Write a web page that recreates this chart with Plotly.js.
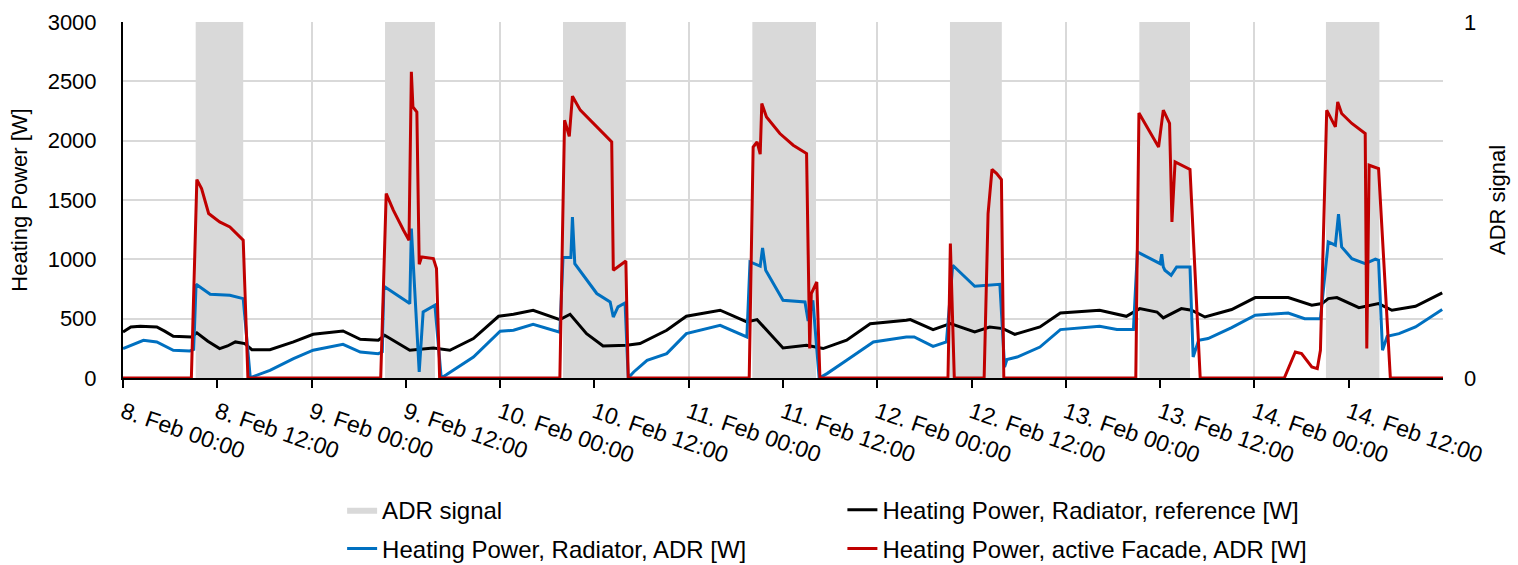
<!DOCTYPE html>
<html>
<head>
<meta charset="utf-8">
<script src="https://cdn.plot.ly/plotly-3.0.1.min.js"></script>
<style>html,body{margin:0;padding:0;background:#fff;}#chart{width:1518px;height:565px;}</style>
</head>
<body>
<div id="chart"></div>
<script>
// Hours after 8. Feb 00:00
var adrStart = [9.25, 33.35, 56.0, 80.1, 105.25, 129.35, 153.1];
var adrEnd   = [15.3, 39.7, 64.0, 88.2, 111.85, 135.8, 159.9];

var refHours = [0, 1.0, 2.2, 4.3, 5.3, 6.4, 8.7, 9.4, 10.8, 12.3, 13.3, 14.3, 15.5, 16.4, 18.7, 21.7, 24.2, 28.0, 30.2, 32.5, 33.3,
  36.5, 39.5, 41.6, 44.6, 47.8, 49.7, 52.2, 55.6, 56.9, 59.0, 61.1, 64.1, 65.8, 69.2, 71.7, 76.0, 79.4, 80.7, 84.0, 87.0, 89.1,
  92.1, 95.1, 99.7, 100.2, 103.1, 105.3, 108.4, 110.3, 112.0, 113.5, 116.7, 119.3, 124.3, 127.7, 129.4, 131.6, 132.4, 134.7,
  136.0, 137.7, 141.1, 144.1, 148.3, 151.3, 152.6, 153.4, 154.5, 157.3, 159.8, 161.5, 164.5, 167.9];
var refPower = [388, 430, 436, 430, 395, 352, 346, 380, 310, 248, 270, 304, 290, 239, 239, 304, 368, 396, 326, 318, 360,
  234, 253, 234, 332, 520, 537, 571, 492, 537, 374, 270, 276, 290, 402, 520, 571, 472, 492, 253, 276, 248,
  318, 458, 486, 492, 408, 458, 388, 430, 416, 368, 430, 548, 571, 520, 585, 556, 506, 585,
  571, 514, 577, 678, 678, 613, 627, 669, 678, 593, 627, 571, 604, 717];

var radHours = [0, 2.6, 4.3, 6.4, 8.5, 9.0, 9.3, 11.1, 13.6, 15.3, 16.2, 16.4, 18.7, 21.7, 24.2, 28.0, 30.2, 32.5, 33.0, 33.2,
  36.5, 36.7, 37.7, 38.2, 39.7, 40.5, 41.2, 44.6, 48.0, 49.7, 52.2, 55.6, 56.0, 57.0, 57.2, 57.5, 60.3, 62.0, 62.4, 63.0, 63.9,
  64.3, 65.0, 66.7, 69.2, 71.7, 76.0, 79.4, 79.8, 81.1, 81.4, 81.8, 84.0, 86.8, 87.2, 87.8, 88.6, 89.6, 92.1, 95.5, 99.7,
  100.7, 103.1, 104.8, 105.6, 108.4, 111.6, 112.2, 112.5, 113.8, 116.7, 119.3, 124.3, 126.5, 128.6, 129.1, 132.0, 132.2,
  132.4, 132.6, 133.4, 134.1, 135.8, 136.2, 136.9, 138.1, 141.1, 144.1, 148.3, 150.4, 152.4, 153.4, 154.3, 154.7, 155.1,
  156.4, 158.1, 159.4, 159.8, 160.3, 160.9, 162.4, 164.5, 167.9];
var radPower = [248, 318, 304, 234, 228, 240, 790, 706, 697, 669, 0, 8, 65, 163, 234, 284, 219, 205, 220, 773,
  627, 1259, 51, 556, 613, 0, 29, 177, 394, 402, 453, 385, 1015, 1015, 1357, 964, 712, 641, 514, 599, 632,
  0, 51, 149, 205, 374, 444, 346, 978, 942, 1096, 908, 655, 641, 480, 655, 0, 37, 149, 304, 346,
  346, 267, 304, 950, 773, 790, 93, 155, 177, 261, 408, 436, 408, 408, 1062, 964, 1043,
  936, 908, 866, 936, 936, 177, 318, 332, 425, 529, 548, 500, 500, 1147, 1119, 1380, 1105,
  1006, 964, 1001, 992, 234, 352, 374, 430, 577];

var facHours = [0, 8.7, 9.4, 10.0, 10.9, 12.3, 13.6, 15.3, 15.9, 32.8, 33.5, 34.4, 35.7, 36.4, 36.7, 36.9, 37.4, 37.7, 38.0,
  39.5, 39.9, 40.3, 55.6, 56.2, 56.8, 57.2, 58.2, 60.3, 62.2, 62.4, 64.0, 64.3, 79.7, 80.2, 80.7, 81.1, 81.3, 81.9, 83.6,
  85.3, 87.0, 87.4, 87.6, 88.3, 88.7, 105.0, 105.3, 105.8, 109.6, 110.1, 110.6, 111.2, 111.8, 112.1, 128.9, 129.3, 130.3,
  131.8, 132.4, 133.2, 133.5, 133.9, 135.8, 137.1, 147.8, 149.2, 150.0, 151.3, 152.0, 152.4, 153.2, 154.3, 154.6, 155.1,
  156.4, 158.1, 158.3, 158.6, 159.8, 161.3, 168];
var facPower = [0, 0, 1672, 1597, 1386, 1315, 1273, 1161, 0, 0, 1554, 1414, 1245, 1161, 2580, 2284, 2242, 958, 1020,
  1006, 922, 0, 0, 2172, 2037, 2375, 2257, 2116, 1989, 908, 986, 0, 0, 1947, 1989, 1886, 2313, 2200, 2060,
  1962, 1892, 248, 711, 809, 0, 0, 1133, 0, 0, 1386, 1757, 1723, 1672, 0, 0, 2234, 2116,
  1947, 2257, 2145, 1315, 1821, 1757, 0, 0, 219, 205, 93, 79, 234, 2257, 2116, 2327, 2229,
  2145, 2060, 248, 1793, 1765, 0, 0];

var tickHours = [0, 12, 24, 36, 48, 60, 72, 84, 96, 108, 120, 132, 144, 156];
var tickLabels = ['8. Feb 00:00', '8. Feb 12:00', '9. Feb 00:00', '9. Feb 12:00', '10. Feb 00:00', '10. Feb 12:00',
  '11. Feb 00:00', '11. Feb 12:00', '12. Feb 00:00', '12. Feb 12:00', '13. Feb 00:00', '13. Feb 12:00',
  '14. Feb 00:00', '14. Feb 12:00'];
var gridHours = [24, 48, 72, 96, 120, 144];
var rangeHours = [0, 168];

function toDate(h) {
  var ms = Date.UTC(2021, 1, 8) + h * 3600000;
  return new Date(ms).toISOString().replace('T', ' ').slice(0, 19);
}

// ADR signal as a 0/1 step series built from the start/end hours
var adrX = [toDate(rangeHours[0])], adrY = [0];
adrStart.forEach(function (s, i) {
  adrX.push(toDate(s)); adrY.push(1);
  adrX.push(toDate(adrEnd[i])); adrY.push(0);
});
adrX.push(toDate(rangeHours[1])); adrY.push(0);

var traces = [
  {type: 'scatter', mode: 'lines', name: 'ADR signal', x: adrX, y: adrY, xaxis: 'x2', yaxis: 'y2',
   line: {shape: 'hv', width: 0, color: 'rgba(0,0,0,0)'}, fill: 'tozeroy', fillcolor: '#d9d9d9',
   legend: 'legend', hoverinfo: 'skip'},
  {type: 'scatter', mode: 'lines', name: 'Heating Power, Radiator, reference [W]', x: refHours.map(toDate), y: refPower,
   line: {color: '#000000', width: 3}, legend: 'legend2', cliponaxis: false},
  {type: 'scatter', mode: 'lines', name: 'Heating Power, Radiator, ADR [W]', x: radHours.map(toDate), y: radPower,
   line: {color: '#0070c0', width: 3}, legend: 'legend3', cliponaxis: false},
  {type: 'scatter', mode: 'lines', name: 'Heating Power, active Facade, ADR [W]', x: facHours.map(toDate), y: facPower,
   line: {color: '#c00000', width: 3}, legend: 'legend4', cliponaxis: false}
];

var legFont = {size: 24, color: '#000', family: 'Liberation Sans, Arial, sans-serif'};
function leg(x, y) {
  return {x: x, y: y, xanchor: 'left', yanchor: 'middle', font: legFont, bgcolor: 'rgba(0,0,0,0)',
          borderwidth: 0, itemclick: false, itemdoubleclick: false};
}

var layout = {
  width: 1518, height: 565,
  margin: {l: 123, r: 75, t: 22, b: 187, autoexpand: false},
  paper_bgcolor: '#ffffff', plot_bgcolor: '#ffffff',
  font: {family: 'Liberation Sans, Arial, sans-serif', size: 22, color: '#000'},
  showlegend: true,
  xaxis2: {type: 'date', range: rangeHours.map(toDate), tickvals: gridHours.map(toDate), showticklabels: false,
           showgrid: true, gridcolor: '#d9d9d9', gridwidth: 2, ticks: '', showline: false, zeroline: false, anchor: 'y2'},
  yaxis2: {range: [0, 1], side: 'right', anchor: 'x2', tickvals: [0, 1], ticktext: ['0', '1'], showgrid: false,
           zeroline: false, showline: false, ticks: '', ticklabelstandoff: 20, tickfont: {size: 22},
           title: {text: 'ADR signal', font: {size: 22}, standoff: 14}},
  xaxis: {type: 'date', overlaying: 'x2', anchor: 'y', range: rangeHours.map(toDate), tickvals: tickHours.map(toDate),
          ticktext: tickLabels, tickangle: 19, ticks: 'outside', ticklen: 8, tickwidth: 2, tickcolor: '#000',
          ticklabelstandoff: 2,
          showline: true, linecolor: '#000', linewidth: 2, showgrid: false, zeroline: false, tickfont: {size: 23}},
  yaxis: {overlaying: 'y2', side: 'left', range: [0, 3000], tick0: 0, dtick: 500, showgrid: true, gridcolor: '#d9d9d9',
          gridwidth: 2, showline: true, linecolor: '#000', linewidth: 2, ticks: '', zeroline: false,
          ticklabelstandoff: 20, tickfont: {size: 22},
          title: {text: 'Heating Power [W]', font: {size: 22}, standoff: 14}},
  legend: leg(0.166, -0.371),
  legend2: leg(0.545, -0.371),
  legend3: leg(0.166, -0.48),
  legend4: leg(0.545, -0.48)
};

Plotly.newPlot('chart', traces, layout, {staticPlot: true, displayModeBar: false});
</script>
</body>
</html>
